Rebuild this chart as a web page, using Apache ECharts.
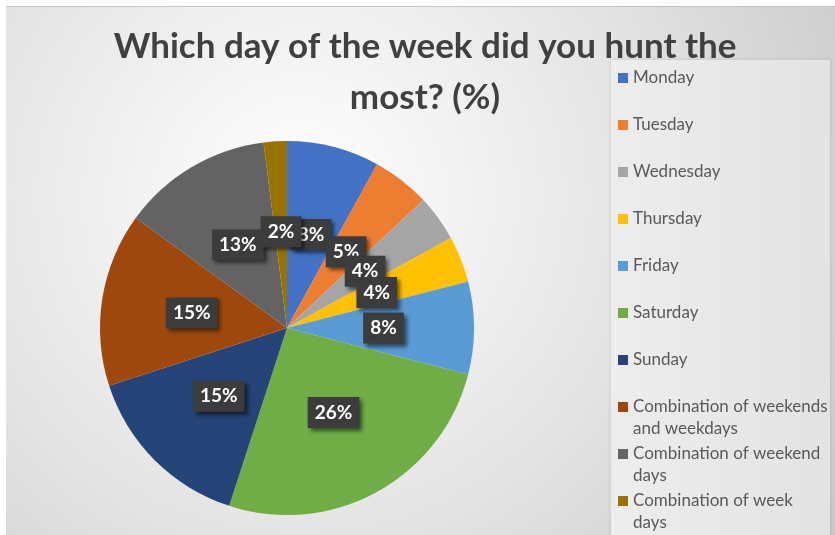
<!DOCTYPE html>
<html>
<head>
<meta charset="utf-8">
<script src="https://cdn.jsdelivr.net/npm/echarts@6/dist/echarts.min.js"></script>
<style>
  html, body { margin: 0; padding: 0; background: #fff; }
  #frame {
    position: absolute; left: 6px; top: 6px;
    width: 829px; height: 529px;
    border-top: 1px solid #c3c3c3;
  }
  #chart { width: 829px; height: 528px; }
</style>
</head>
<body>
<div id="frame"><div id="chart"></div></div>
<script>
const categories = [
  'Monday', 'Tuesday', 'Wednesday', 'Thursday', 'Friday', 'Saturday', 'Sunday',
  'Combination of weekends and weekdays',
  'Combination of weekend days',
  'Combination of week days'
]
const values = [8, 5, 4, 4, 8, 26, 15, 15, 13, 2]
const palette = [
  '#4472C4', '#ED7D31', '#A5A5A5', '#FFC000', '#5B9BD5',
  '#70AD47', '#264478', '#9E480E', '#636363', '#997300'
]

// wrap long legend names like the original (max ~23 chars per line)
function wrap(name) {
  const lines = []
  let cur = ''
  name.split(' ').forEach(w => {
    const next = cur ? cur + ' ' + w : w
    if (next.length > 23 && cur) {
      lines.push(cur)
      cur = w
    } else {
      cur = next
    }
  })
  lines.push(cur)
  return lines.join('\n')
}

// legend text is centred on the icon, so a blank first line keeps
// the icon level with the first real line of a two-line name
function legendText(name) {
  const t = wrap(name)
  return t.indexOf('\n') >= 0 ? ' \n' + t : t
}

const chart = echarts.init(document.getElementById('chart'))

const legends = categories.map((name, i) => {
  const multi = wrap(name).indexOf('\n') >= 0
  return {
    data: [name],
    orient: 'vertical',
    left: 612,
    top: 60 + 47 * i - (multi ? 22 : 0),
    padding: 0,
    icon: 'rect',
    itemWidth: 10,
    itemHeight: 10,
    selectedMode: false,
    formatter: legendText,
    textStyle: {
      fontFamily: 'Lato',
      fontSize: 17,
      color: '#595959',
      lineHeight: 22
    }
  }
})

const option = {
  backgroundColor: {
    type: 'radial', x: 294, y: 190, r: 640, global: true,
    colorStops: [
      { offset: 0, color: '#ffffff' },
      { offset: 0.55, color: '#e3e3e3' },
      { offset: 1, color: '#c8c8c8' }
    ]
  },
  color: palette,
  graphic: [
    {
      type: 'rect',
      z: -1,
      shape: { x: 605, y: 53, width: 219, height: 480 },
      style: {
        fill: new echarts.graphic.LinearGradient(0, 0, 1, 0, [
          { offset: 0, color: '#ededed' },
          { offset: 1, color: '#e3e3e3' }
        ]),
        shadowColor: 'rgba(0,0,0,0.12)',
        shadowBlur: 4
      }
    }
  ],
  title: {
    text: 'Which day of the week did you hunt the\nmost? (%)',
    left: 419,
    textAlign: 'center',
    top: 14,
    padding: 0,
    textStyle: {
      fontFamily: 'Lato',
      fontWeight: 'bold',
      fontSize: 35,
      lineHeight: 51,
      color: '#404040'
    }
  },
  legend: legends,
  series: [
    {
      type: 'pie',
      center: [281, 321],
      radius: 187,
      startAngle: 90,
      clockwise: true,
      avoidLabelOverlap: false,
      labelLayout: { hideOverlap: false },
      data: categories.map((name, i) => ({ name, value: values[i] })),
      itemStyle: { borderWidth: 0 },
      emphasis: { disabled: true },
      label: {
        show: true,
        position: 'inside',
        formatter: '{c}%',
        fontFamily: 'Lato',
        fontWeight: 'bold',
        fontSize: 19,
        color: '#ffffff',
        backgroundColor: '#3c3c3c',
        padding: [5, 7, 4, 7],
        lineHeight: 22,
        shadowColor: 'rgba(0,0,0,0.55)',
        shadowBlur: 4,
        shadowOffsetX: 3,
        shadowOffsetY: 3
      },
      labelLine: { show: false }
    }
  ]
}

chart.setOption(option)
</script>
</body>
</html>
